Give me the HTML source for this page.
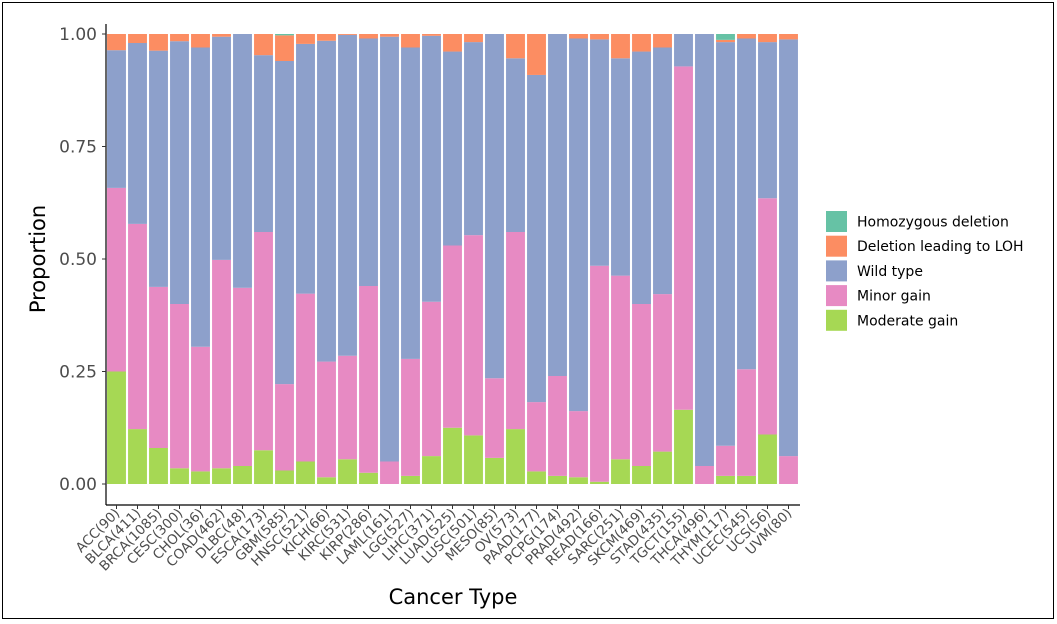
<!DOCTYPE html>
<html><head><meta charset="utf-8"><style>
body{margin:0;background:#fff;}
svg{display:block;font-family:"DejaVu Sans","Liberation Sans",sans-serif;}
</style></head><body>
<svg id="chart" width="1057" height="624">
<rect x="2.5" y="2.5" width="1051" height="616" fill="#fff" stroke="#000" stroke-width="1"/>
</svg>
<script>
const categories=["ACC(90)","BLCA(411)","BRCA(1085)","CESC(300)","CHOL(36)","COAD(462)","DLBC(48)","ESCA(173)","GBM(585)","HNSC(521)","KICH(66)","KIRC(531)","KIRP(286)","LAML(161)","LGG(527)","LIHC(371)","LUAD(525)","LUSC(501)","MESO(85)","OV(573)","PAAD(177)","PCPG(174)","PRAD(492)","READ(166)","SARC(251)","SKCM(469)","STAD(435)","TGCT(155)","THCA(496)","THYM(117)","UCEC(545)","UCS(56)","UVM(80)"];
const moderateGain=[.25,.122,.08,.035,.028,.035,.04,.075,.03,.05,.015,.055,.025,0,.018,.062,.125,.108,.058,.122,.028,.018,.015,.005,.055,.04,.072,.165,0,.018,.018,.11,0];
const minorGain=[.408,.456,.358,.365,.277,.463,.396,.485,.192,.373,.257,.23,.415,.05,.26,.343,.405,.445,.177,.438,.154,.222,.147,.48,.408,.36,.35,.763,.04,.067,.237,.525,.062];
const wildType=[.306,.402,.525,.584,.665,.496,.564,.393,.718,.555,.713,.713,.55,.944,.692,.591,.431,.429,.765,.386,.727,.76,.828,.503,.483,.561,.548,.072,.96,.897,.735,.347,.926];
const deletionLOH=[.036,.02,.037,.016,.03,.006,0,.047,.057,.022,.015,.002,.01,.006,.03,.004,.039,.018,0,.054,.091,0,.01,.012,.054,.039,.03,0,0,.005,.01,.018,.012];
const homozygousDeletion=[0,0,0,0,0,0,0,0,.003,0,0,0,0,0,0,0,0,0,0,0,0,0,0,0,0,0,0,0,0,.013,0,0,0];
const yTicks=[0,0.25,0.5,0.75,1.0];
const yTickLabels=["0.00","0.25","0.50","0.75","1.00"];
const seriesNames=["Homozygous deletion","Deletion leading to LOH","Wild type","Minor gain","Moderate gain"];

const NS="http://www.w3.org/2000/svg";
const svg=document.getElementById('chart');
const X0=106,X1=799,Y0=484,YTOP=34;
const step=(X1-X0)/categories.length;
const xC=i=>X0+step*(i+0.5);
const yS=v=>Y0-(Y0-YTOP)*v;
function mk(t,a,p){const e=document.createElementNS(NS,t);for(const k in a)e.setAttribute(k,a[k]);(p||svg).appendChild(e);return e;}
const colors={moderate:"#a6d854",minor:"#e78ac3",wild:"#8da0cb",loh:"#fc8d62",hom:"#66c2a5"};
const stack=[["moderate",moderateGain],["minor",minorGain],["wild",wildType],["loh",deletionLOH],["hom",homozygousDeletion]];
const bw=step*0.9;
categories.forEach((c,i)=>{
  let cum=0;
  stack.forEach(([k,arr])=>{
    const v=arr[i];
    if(v>0){
      const r=mk('rect',{x:xC(i)-bw/2,y:yS(cum+v),width:bw,height:yS(cum)-yS(cum+v),fill:colors[k]});
      
      
    }
    cum+=v;
  });
});
const ax=mk('line',{x1:X0,y1:YTOP-10,x2:X0,y2:505,stroke:"#000","stroke-width":1.2});


const bx=mk('line',{x1:X0,y1:505,x2:X1+1,y2:505,stroke:"#000","stroke-width":1.2});


yTicks.forEach((t,i)=>{
  mk('line',{x1:X0-4,y1:yS(t),x2:X0,y2:yS(t),stroke:"#333"});
  const tx=mk('text',{x:97,y:yS(t)+6,'text-anchor':'end','font-size':17,fill:"#4d4d4d"});
  tx.textContent=yTickLabels[i];
  
  
});
categories.forEach((c,i)=>{
  mk('line',{x1:xC(i),y1:505,x2:xC(i),y2:509,stroke:"#333"});
  const tx=mk('text',{x:xC(i)+4,y:514,'text-anchor':'end','font-size':13.5,fill:"#4d4d4d",transform:`rotate(-45 ${xC(i)+4} 514)`});
  tx.textContent=c;
  
  
});
const xt=mk('text',{x:453,y:604,'text-anchor':'middle','font-size':21,fill:"#000"});
xt.textContent="Cancer Type";


const yt=mk('text',{x:45,y:259,'text-anchor':'middle','font-size':21,fill:"#000",transform:"rotate(-90 45 259)"});
yt.textContent="Proportion";


const legColors=[colors.hom,colors.loh,colors.wild,colors.minor,colors.moderate];
seriesNames.forEach((n,i)=>{
  const y=211+i*24.7;
  const r=mk('rect',{x:826,y:y,width:21,height:21,fill:legColors[i]});
  
  
  const t=mk('text',{x:857,y:y+15.5,'font-size':14,fill:"#000"});
  t.textContent=n;
  
  
});
</script>
</body></html>
